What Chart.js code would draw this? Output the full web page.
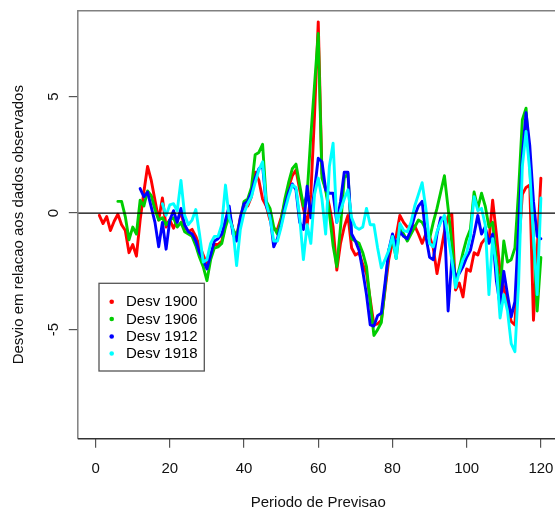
<!DOCTYPE html>
<html><head><meta charset="utf-8">
<script src="https://cdn.jsdelivr.net/npm/chart.js@4/dist/chart.umd.min.js"></script>
<style>
html,body{margin:0;padding:0;overflow:hidden;background:#fff;width:555px;height:508px}
#c{position:absolute;left:0;top:0}
</style></head><body>
<canvas id="c" width="562" height="508"></canvas>
<script>
const periods = [1,2,3,4,5,6,7,8,9,10,11,12,13,14,15,16,17,18,19,20,21,22,23,24,25,26,27,28,29,30,31,32,33,34,35,36,37,38,39,40,41,42,43,44,45,46,47,48,49,50,51,52,53,54,55,56,57,58,59,60,61,62,63,64,65,66,67,68,69,70,71,72,73,74,75,76,77,78,79,80,81,82,83,84,85,86,87,88,89,90,91,92,93,94,95,96,97,98,99,100,101,102,103,104,105,106,107,108,109,110,111,112,113,114,115,116,117,118,119,120];
const xTicks = [0,20,40,60,80,100,120];
const yTicks = [-5,0,5];
const seriesNames = ["Desv 1900","Desv 1906","Desv 1912","Desv 1918"];
const seriesColors = ["#FF0000","#00CD00","#0000FF","#00FFFF"];

const desv1900 = [-0.1,-0.45,-0.15,-0.75,-0.35,-0.05,-0.5,-0.75,-1.7,-1.35,
 -1.85,-0.3,0.9,2.0,1.4,0.55,-0.3,0.65,-0.6,-0.3,
 -0.65,-0.3,0.0,-0.6,-0.8,-0.7,-1.0,-1.4,-1.8,-2.2,
 -1.8,-1.35,-1.35,-1.2,-0.5,0.0,-0.7,-1.0,-0.2,0.3,
 0.3,0.7,1.75,1.4,0.6,0.3,-0.3,-0.7,-0.7,-0.2,
 0.4,1.1,1.6,1.85,1.0,0.2,-0.5,0.8,4.2,8.2,
 1.7,1.0,0.3,-0.6,-2.45,-1.3,-0.6,-0.1,-1.5,-1.8,
 -1.7,-2.2,-2.6,-3.7,-4.8,-4.75,-4.6,-3.3,-2.0,-1.25,
 -1.0,-0.1,-0.4,-0.6,-0.6,-0.55,-0.9,-1.3,-0.9,-1.0,
 -1.5,-2.6,-1.7,-0.8,-0.15,-0.05,-3.3,-3.0,-3.6,-2.4,
 -2.5,-1.7,-1.8,-1.3,-1.1,-1.2,0.55,-0.9,-2.5,-3.2,
 -4.0,-4.65,-4.8,-1.5,0.8,1.1,1.2,-4.6,-1.6,1.5];

const desv1906 = [null,null,null,null,null,0.5,0.5,-0.15,-1.15,-0.6,
 -0.9,0.55,0.3,0.95,0.75,0.15,-0.3,-0.2,-0.5,-0.3,
 -0.2,-0.6,-0.4,-0.8,-0.9,-1.0,-1.4,-1.9,-2.3,-2.9,
 -2.0,-1.5,-1.45,-1.3,-0.6,-0.1,-0.7,-1.0,-0.3,0.5,
 0.6,1.1,2.5,2.6,2.95,0.5,0.2,-0.6,-0.9,-0.3,
 0.6,1.3,1.9,2.1,1.2,0.3,0.8,3.3,5.5,7.7,
 1.5,1.0,0.0,-1.4,-2.3,-0.6,1.5,1.7,-1.1,-1.2,
 -1.3,-1.7,-2.3,-3.8,-5.25,-5.0,-4.7,-3.2,-1.6,-1.1,
 -1.95,-0.6,-0.9,-1.2,-0.9,-0.6,-0.3,-0.4,-0.7,-1.1,
 -0.4,0.2,0.9,1.6,0.2,-1.3,-3.0,-2.4,-1.7,-1.1,
 -0.7,0.9,0.2,0.85,0.3,-0.6,-0.4,-2.0,-3.4,-1.2,
 -2.1,-2.0,-1.5,1.0,4.0,4.5,2.0,-1.0,-4.2,-1.9];

const desv1912 = [null,null,null,null,null,null,null,null,null,null,
 null,1.05,0.7,0.9,0.25,-0.4,-1.45,-0.4,-1.55,-0.3,
 0.1,-0.4,0.2,-0.5,-0.8,-0.9,-1.2,-1.7,-2.0,-2.4,
 -1.8,-1.2,-1.1,-0.9,-0.3,0.3,-0.9,-1.2,-0.2,0.4,
 0.5,0.9,1.5,1.9,2.05,0.3,-0.1,-1.45,-1.1,-0.5,
 0.3,0.9,1.25,1.0,-0.4,-0.7,1.15,-0.2,1.0,2.35,
 2.2,1.0,0.85,0.85,-0.4,0.5,1.75,1.75,-0.9,-1.2,
 -1.6,-2.5,-3.5,-4.8,-4.85,-4.4,-4.3,-3.0,-1.6,-0.9,
 -1.4,-0.8,-1.0,-1.1,-0.7,-0.1,0.3,0.5,-1.0,-1.9,
 -2.0,-0.9,-0.2,-0.3,-4.2,-2.0,-2.7,-2.6,-2.3,-1.9,
 -1.6,-0.9,-0.1,-0.9,-0.6,-1.3,-0.9,-2.9,-3.95,-2.5,
 -3.5,-4.45,-3.8,-0.6,2.5,4.3,2.9,0.5,-1.0,-1.1];

const desv1918 = [null,null,null,null,null,null,null,null,null,null,
 null,null,null,null,null,null,null,0.4,-0.1,0.35,
 0.4,0.1,1.4,-0.1,-0.5,-0.3,0.15,-0.9,-2.1,-2.0,
 -1.3,-1.0,-1.0,-0.5,1.2,-0.2,-0.7,-2.25,-0.7,0.0,
 0.4,0.7,1.3,1.85,2.2,0.4,-0.2,-1.2,-1.2,-0.6,
 0.1,0.7,1.2,1.1,-0.2,-2.0,-0.5,-1.3,0.8,1.5,
 0.6,-0.9,2.0,3.0,-0.4,0.1,0.6,1.0,-0.2,-0.6,
 -0.7,-0.6,0.2,-0.5,-0.5,-1.5,-2.35,-2.0,-1.6,-1.0,
 -1.95,-0.45,-0.75,-0.8,-0.4,0.3,0.8,1.3,0.2,-1.3,
 -1.45,-0.8,-0.4,-0.1,-1.0,-2.0,-3.2,-2.5,-2.0,-1.7,
 -1.0,0.7,0.1,0.2,-0.5,-3.5,-1.1,-2.3,-4.5,-3.5,
 -4.2,-5.6,-5.95,-3.0,2.0,3.5,1.8,-1.0,-3.5,0.65];

const FONT = "'Liberation Sans', Arial, Helvetica, sans-serif";
const allSeries = [desv1900, desv1906, desv1912, desv1918];

const frame = {
  id: 'frame',
  afterDatasetsDraw(chart) {
    const {ctx, chartArea: a, scales} = chart;
    ctx.save();
    const y0 = scales.y.getPixelForValue(0);
    ctx.strokeStyle = '#000'; ctx.lineWidth = 1.3;
    ctx.beginPath(); ctx.moveTo(a.left, y0); ctx.lineTo(a.right, y0); ctx.stroke();
    ctx.strokeStyle = '#808080'; ctx.lineWidth = 1.5;
    ctx.beginPath();
    ctx.moveTo(a.left, a.bottom); ctx.lineTo(a.left, a.top); ctx.lineTo(a.right, a.top); ctx.lineTo(a.right, a.bottom);
    ctx.stroke();
    ctx.strokeStyle = '#333'; ctx.lineWidth = 1.5;
    ctx.beginPath(); ctx.moveTo(a.left, a.bottom); ctx.lineTo(a.right, a.bottom); ctx.stroke();
    const lx = 99, ly = 283.3, lw = 105.3, lh = 87.7;
    ctx.strokeStyle = '#555'; ctx.lineWidth = 1.3;
    ctx.strokeRect(lx, ly, lw, lh);
    ctx.font = '15px ' + FONT; ctx.textBaseline = 'middle'; ctx.textAlign = 'left';
    const rows = [301.7, 319, 336.5, 353.5];
    seriesNames.forEach((n, i) => {
      ctx.fillStyle = seriesColors[i];
      ctx.beginPath(); ctx.arc(111.7, rows[i], 2.3, 0, Math.PI * 2); ctx.fill();
      ctx.fillStyle = '#000';
      ctx.fillText(n, 126, rows[i] + 0.5);
    });
    ctx.restore();
  }
};

new Chart(document.getElementById('c'), {
  type: 'line',
  data: {
    labels: periods,
    datasets: allSeries.map((d, i) => ({
      label: seriesNames[i],
      data: d,
      borderColor: seriesColors[i],
      backgroundColor: seriesColors[i],
      borderWidth: 2.9,
      pointRadius: 0,
      tension: 0,
      fill: false,
      spanGaps: false,
      borderJoinStyle: 'round',
      borderCapStyle: 'round',
      order: 4 - i
    }))
  },
  options: {
    responsive: false,
    animation: false,
    events: [],
    layout: { padding: { top: 10.7, right: 3.3, left: 0, bottom: 0 } },
    plugins: { legend: { display: false }, tooltip: { enabled: false } },
    scales: {
      x: {
        type: 'linear', min: -4.8, max: 124.8,
        afterBuildTicks: s => { s.ticks = xTicks.map(v => ({ value: v })); },
        afterFit: s => { s.height = 69.3; s.paddingLeft = 0; s.paddingRight = 0; },
        grid: { drawOnChartArea: false, drawTicks: true, tickLength: 9, color: '#555', lineWidth: 1.2 },
        border: { display: false },
        ticks: { font: { family: FONT, size: 15 }, color: '#111', padding: 12, maxRotation: 0, minRotation: 0, autoSkip: false },
        title: { display: true, text: 'Periodo de Previsao', color: '#111',
                 font: { family: FONT, size: 15, lineHeight: 0.7 }, padding: { top: 0, bottom: 0 } }
      },
      y: {
        type: 'linear', min: -9.68, max: 8.68,
        afterBuildTicks: s => { s.ticks = yTicks.map(v => ({ value: v })); },
        afterFit: s => { s.width = 77.8; s.paddingTop = 0; s.paddingBottom = 0; },
        grid: { drawOnChartArea: false, drawTicks: true, tickLength: 9, color: '#555', lineWidth: 1.2 },
        border: { display: false },
        ticks: { font: { family: FONT, size: 15 }, color: '#111', padding: 8, minRotation: 90, maxRotation: 90,
                 crossAlign: 'center', autoSkip: false },
        title: { display: true, text: 'Desvio em relacao aos dados observados', color: '#111',
                 font: { family: FONT, size: 15, lineHeight: 1 }, padding: { top: 11, bottom: 0 } }
      }
    }
  },
  plugins: [frame]
});
</script>
</body></html>
